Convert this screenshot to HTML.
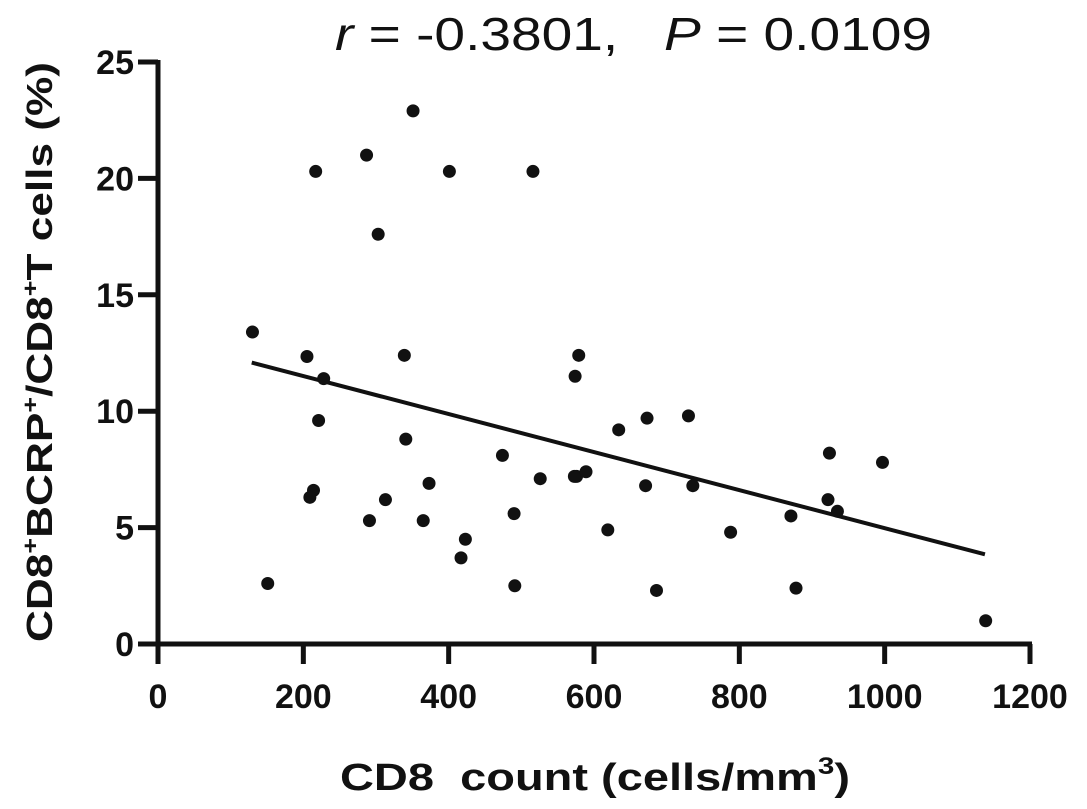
<!DOCTYPE html>
<html><head><meta charset="utf-8"><style>
html,body{margin:0;padding:0;background:#fff;}
svg{display:block;font-family:"Liberation Sans",Arial,sans-serif;}
</style></head><body>
<svg id="chart" width="1087" height="809" viewBox="0 0 1087 809">
<text x="335" y="50" font-size="46" fill="#111" textLength="597" lengthAdjust="spacingAndGlyphs" xml:space="preserve"><tspan font-style="italic">r</tspan> = -0.3801,   <tspan font-style="italic">P</tspan> = 0.0109</text>
<text transform="translate(52,352) rotate(-90)" font-size="36" font-weight="bold" text-anchor="middle" fill="#111" textLength="580" lengthAdjust="spacingAndGlyphs">CD8<tspan dy="-14" font-size="22">+</tspan><tspan dy="14">BCRP</tspan><tspan dy="-14" font-size="22">+</tspan><tspan dy="14">/CD8</tspan><tspan dy="-14" font-size="22">+</tspan><tspan dy="14">T cells (%)</tspan></text>
<text x="340" y="790" font-size="38" font-weight="bold" fill="#111" textLength="510" lengthAdjust="spacingAndGlyphs" xml:space="preserve">CD8  count (cells/mm<tspan dy="-16" font-size="24">3</tspan><tspan dy="16">)</tspan></text>
<g id="axes"></g>
<g id="marks"></g>
</svg>
<script>
const xTicks=[0,200,400,600,800,1000,1200];
const yTicks=[0,5,10,15,20,25];
const cd8Count=[130,151,205,217,228,221,214,209,287,303,351,339,341,291,313,373,365,401,423,417,474,490,491,516,526,579,574,576,573,589,619,634,673,671,686,730,736,788,871,878,924,922,935,997,1139];
const pctBCRP=[13.4,2.6,12.35,20.3,11.4,9.6,6.6,6.3,21.0,17.6,22.9,12.4,8.8,5.3,6.2,6.9,5.3,20.3,4.5,3.7,8.1,5.6,2.5,20.3,7.1,12.4,11.5,7.2,7.2,7.4,4.9,9.2,9.7,6.8,2.3,9.8,6.8,4.8,5.5,2.4,8.2,6.2,5.7,7.8,1.0];
const fitX=[129,1138];
const fitY=[12.09,3.85];
const NS='http://www.w3.org/2000/svg';
function sx(v){return 158+v*(1030-158)/1200;}
function sy(v){return 644-v*(644-62)/25;}
function mk(tag,attrs,parent){const e=document.createElementNS(NS,tag);for(const k in attrs)e.setAttribute(k,attrs[k]);parent.appendChild(e);return e;}
const axes=document.getElementById('axes'),marks=document.getElementById('marks');
let a=mk('line',{x1:sx(0),y1:sy(0)+2.5,x2:sx(0),y2:sy(25)-2,stroke:'#111','stroke-width':5},axes);


a=mk('line',{x1:sx(0)-2.5,y1:sy(0),x2:sx(1200)+2,y2:sy(0),stroke:'#111','stroke-width':5},axes);


xTicks.forEach(t=>{
 const l=mk('line',{x1:sx(t),y1:sy(0),x2:sx(t),y2:sy(0)+20,stroke:'#111','stroke-width':5},axes);
 
 
 const tx=mk('text',{x:sx(t),y:708,'font-size':34,'font-weight':'bold','text-anchor':'middle',fill:'#111'},axes);tx.textContent=t;
 
 
});
yTicks.forEach(t=>{
 const l=mk('line',{x1:sx(0)-20,y1:sy(t),x2:sx(0),y2:sy(t),stroke:'#111','stroke-width':5},axes);
 
 
 const tx=mk('text',{x:134,y:sy(t)+12,'font-size':34,'font-weight':'bold','text-anchor':'end',fill:'#111'},axes);tx.textContent=t;
 
 
});
const fl=mk('line',{x1:sx(fitX[0]),y1:sy(fitY[0]),x2:sx(fitX[1]),y2:sy(fitY[1]),stroke:'#111','stroke-width':4},marks);


cd8Count.forEach((x,i)=>{
 const c=mk('circle',{cx:sx(x),cy:sy(pctBCRP[i]),r:6.5,fill:'#111'},marks);
 
 
});
</script>
</body></html>
